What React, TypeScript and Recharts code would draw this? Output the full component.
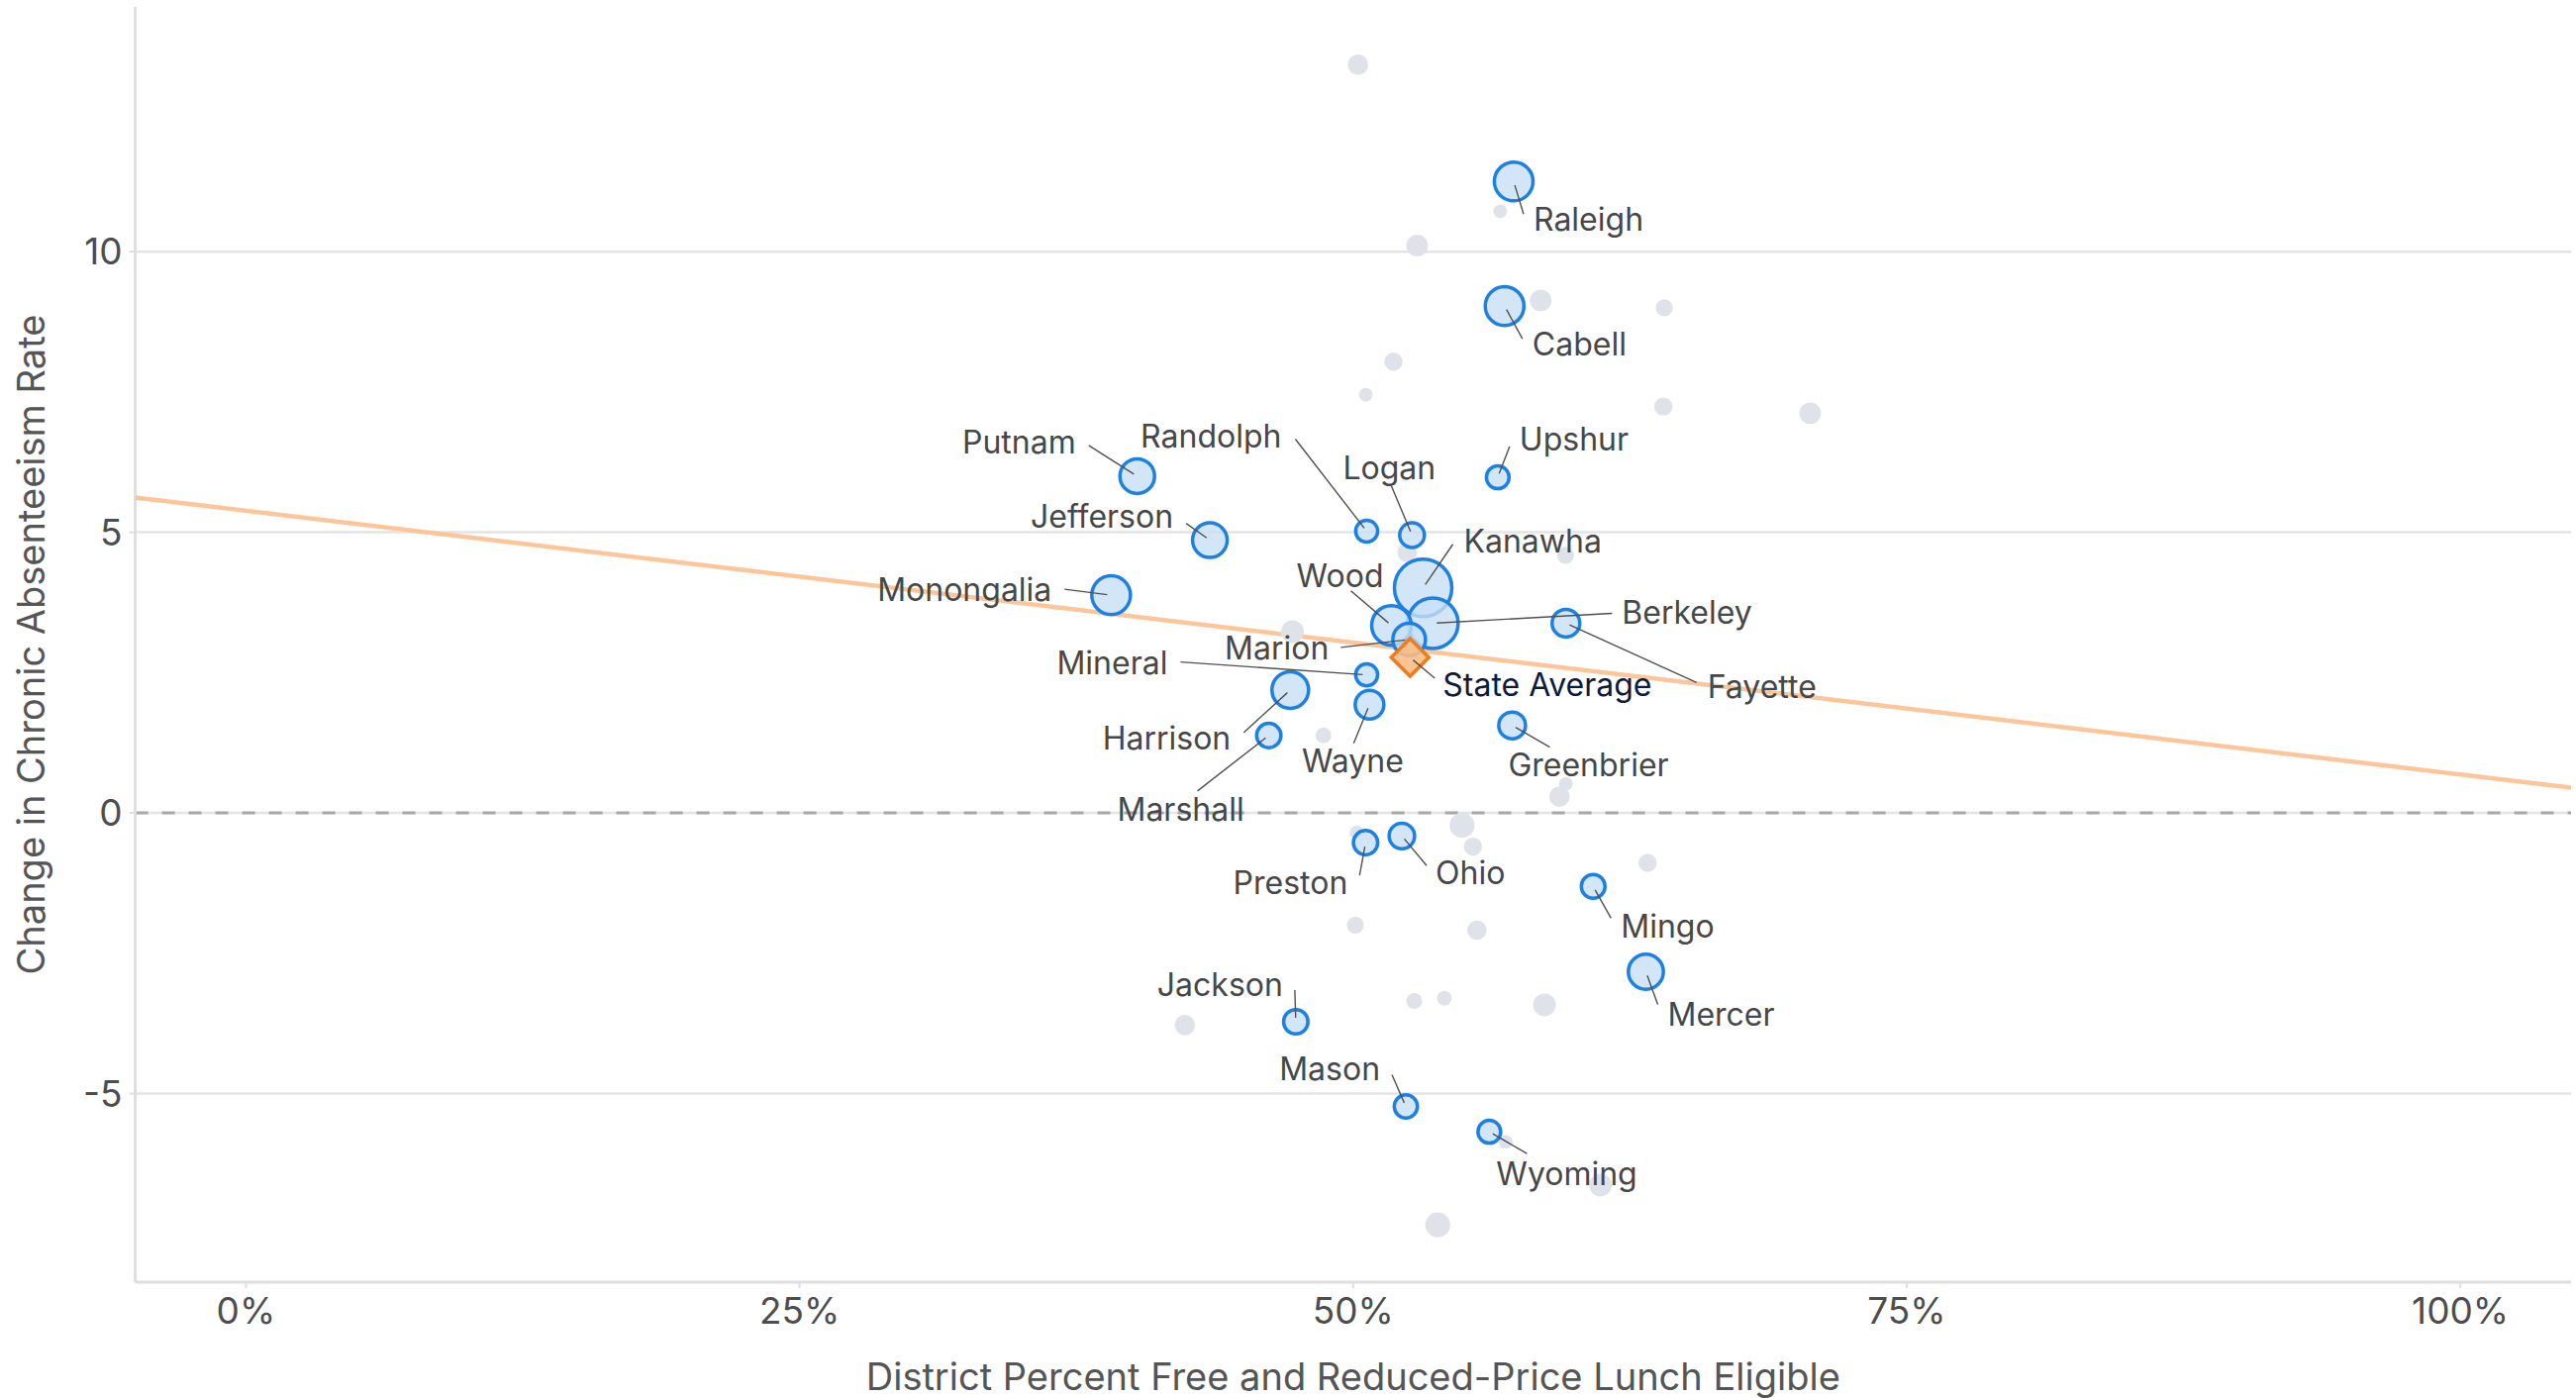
import React from 'react';
import {
  ScatterChart,
  Scatter,
  XAxis,
  YAxis,
  ZAxis,
  ReferenceLine,
} from 'recharts';

// ---------- data ----------
// Labeled districts (share FRL eligible, change in chronic absenteeism, enrollment)
const labeledNames = [
  'Raleigh', 'Cabell', 'Putnam', 'Upshur', 'Randolph', 'Logan', 'Jefferson',
  'Kanawha', 'Monongalia', 'Wood', 'Berkeley', 'Fayette', 'Marion', 'Mineral',
  'Harrison', 'Wayne', 'Greenbrier', 'Marshall', 'Preston', 'Ohio', 'Mingo',
  'Mercer', 'Jackson', 'Mason', 'Wyoming',
];
const labeledFrl = [
  0.5725, 0.5684, 0.4025, 0.5653, 0.5061, 0.5266, 0.4353,
  0.5316, 0.3907, 0.5173, 0.536, 0.5961, 0.5253, 0.5061,
  0.4716, 0.5074, 0.5718, 0.4619, 0.5056, 0.522, 0.6084,
  0.6322, 0.4741, 0.5238, 0.5615,
];
const labeledChange = [
  11.25, 9.03, 6.0, 5.98, 5.02, 4.95, 4.86,
  4.01, 3.88, 3.34, 3.38, 3.38, 3.09, 2.46,
  2.19, 1.93, 1.56, 1.38, -0.53, -0.41, -1.31,
  -2.83, -3.72, -5.23, -5.68,
];
const labeledEnrollment = [
  10900, 10900, 8740, 3770, 3520, 4460, 8740,
  24000, 10900, 11400, 18600, 5590, 7770, 3520,
  9770, 6000, 5200, 4320, 4320, 4750, 4110,
  8940, 4320, 3900, 3770,
];

// Other (unlabeled) districts
const otherFrl = [
  0.5022, 0.5664, 0.5289, 0.5847, 0.6405, 0.5182, 0.5057, 0.6401, 0.7064,
  0.5244, 0.5959, 0.4726, 0.4866, 0.5961, 0.5932, 0.5492, 0.5015, 0.5541,
  0.633, 0.501, 0.5559, 0.5276, 0.5412, 0.5864, 0.424, 0.5689, 0.6117, 0.5382,
];
const otherChange = [
  13.33, 10.72, 10.11, 9.13, 9.0, 8.04, 7.45, 7.24, 7.12,
  4.64, 4.59, 3.23, 1.38, 0.52, 0.29, -0.22, -0.35, -0.6,
  -0.89, -2.0, -2.09, -3.35, -3.3, -3.42, -3.78, -5.86, -6.63, -7.34,
];
const otherEnrollment = [
  3030, 1360, 3390, 3390, 2110, 2420, 1360, 2420, 3390,
  2740, 2110, 3770, 1830, 1360, 3030, 4530, 1360, 2420,
  2420, 2110, 2740, 1830, 1600, 3770, 3030, 1360, 3770, 4530,
];

// State average
const stateAverageFrl = [0.5257];
const stateAverageChange = [2.77];

// Trend line end points (at the x-domain edges)
const trendFrl = [-0.05, 1.05];
const trendChange = [5.62, 0.45];

// Axes
const xTicks = [0, 0.25, 0.5, 0.75, 1];
const yTicks = [-5, 0, 5, 10];
const xDomain: [number, number] = [-0.05, 1.05];
const yDomain: [number, number] = [-8.36, 14.36];

// ---------- layout of the callout labels (pixel offsets from the mark) ----------
// [text dx, text baseline dy, anchor, leader end dx, leader end dy]
type Anchor = 'start' | 'end' | 'middle';
const LABEL_LAYOUT: Record<string, [number, number, Anchor, number, number]> = {
  Raleigh: [20, 50, 'start', 10, 33],
  Cabell: [28, 50, 'start', 18, 33],
  Putnam: [-62, -23, 'end', -49, -31],
  Randolph: [-86, -84, 'end', -72, -93],
  Logan: [-23, -56, 'middle', -21, -50],
  Upshur: [22, -27, 'start', 12, -31],
  Jefferson: [-37, -13, 'end', -24, -17],
  Kanawha: [41, -36, 'start', 30, -44],
  Monongalia: [-60, 6, 'end', -47, -6],
  Wood: [-8, -39, 'end', -41, -35],
  Berkeley: [191, 1, 'start', 181, -10],
  Fayette: [143, 76, 'start', 132, 60],
  Marion: [-81, 20, 'end', -69, 8],
  'State Average': [33, 39, 'start', 25, 21],
  Mineral: [-201, -1, 'end', -188, -13],
  Harrison: [-60, 60, 'end', -47, 43],
  Marshall: [-89, 86, 'middle', -72, 56],
  Wayne: [-17, 68, 'middle', -16, 39],
  Greenbrier: [-4, 51, 'start', 38, 22],
  Preston: [-18, 52, 'end', -6, 33],
  Ohio: [34, 49, 'start', 25, 30],
  Mingo: [28, 52, 'start', 18, 32],
  Mercer: [22, 54, 'start', 12, 33],
  Jackson: [-13, -26, 'end', -1, -32],
  Mason: [-26, -27, 'end', -14, -32],
  Wyoming: [7, 54, 'start', 38, 22],
};

const FONT = 'Inter, "Noto Sans", sans-serif';

// ---------- build series ----------
const labeledData = labeledNames
  .map((name, i) => ({ name, x: labeledFrl[i], y: labeledChange[i], z: labeledEnrollment[i] }))
  .sort((a, b) => b.z - a.z);
const otherData = otherFrl.map((x, i) => ({ x, y: otherChange[i], z: otherEnrollment[i] }));
const stateData = stateAverageFrl.map((x, i) => ({ name: 'State Average', x, y: stateAverageChange[i] }));
const trendData = trendFrl.map((x, i) => ({ x, y: trendChange[i] }));
const labelData = [...labeledData, ...stateData];

// ---------- shapes ----------
const Empty = () => <g />;

const Diamond = (props: any) => {
  const { cx, cy } = props;
  const h = 19;
  const pts = `${cx},${cy - h} ${cx + h},${cy} ${cx},${cy + h} ${cx - h},${cy}`;
  return (
    <polygon points={pts} fill="#fdbd86" fillOpacity={0.9} stroke="#f07a1c" strokeWidth={3.5} strokeLinejoin="miter" />
  );
};

const LeaderLabel = (props: any) => {
  const { cx, cy, payload } = props;
  const lay = payload && LABEL_LAYOUT[payload.name];
  if (!lay || cx == null || cy == null) return <g />;
  const [dx, dy, anchor, ex, ey] = lay;
  const len = Math.hypot(ex, ey) || 1;
  const sx = cx + (ex / len) * 4;
  const sy = cy + (ey / len) * 4;
  const isState = payload.name === 'State Average';
  return (
    <g>
      <line x1={sx} y1={sy} x2={cx + ex} y2={cy + ey} stroke="#505050" strokeWidth={1.4} />
      <text
        x={cx + dx}
        y={cy + dy}
        textAnchor={anchor}
        fontFamily={FONT}
        fontSize={32}
        fill={isState ? '#0c1a3f' : '#474747'}
      >
        {payload.name}
      </text>
    </g>
  );
};

const XTitle = (props: any) => {
  const vb = props.viewBox || {};
  const x = (vb.x ?? 136) + (vb.width ?? 2460) / 2;
  const y = (vb.y ?? 1295) + (vb.height ?? 117) - 8;
  return (
    <text x={x} y={y} textAnchor="middle" fontFamily={FONT} fontSize={38} fill="#555555">
      District Percent Free and Reduced-Price Lunch Eligible
    </text>
  );
};

const YTitle = (props: any) => {
  const vb = props.viewBox || {};
  const x = (vb.x ?? 36.6) - 6;
  const y = (vb.y ?? 7) + (vb.height ?? 1288) / 2;
  return (
    <text
      x={x}
      y={y}
      transform={`rotate(-90, ${x}, ${y})`}
      textAnchor="middle"
      dominantBaseline="central"
      fontFamily={FONT}
      fontSize={38}
      fill="#555555"
    >
      Change in Chronic Absenteeism Rate
    </text>
  );
};

const tickStyle = { fill: '#4d4d4d', fontSize: 37, fontFamily: FONT };
const GRID = '#e4e4e4';

export default function App() {
  return (
    <div style={{ width: 2602, height: 1412, background: '#ffffff' }}>
      <style>{'body{margin:0;overflow:hidden;background:#fff}'}</style>
      <ScatterChart width={2602} height={1412} margin={{ top: 7, right: 5, bottom: 0, left: 36.6 }}>
        <XAxis
          type="number"
          dataKey="x"
          domain={xDomain}
          ticks={xTicks}
          allowDataOverflow
          tickFormatter={(v: number) => `${Math.round(v * 100)}%`}
          height={117}
          axisLine={{ stroke: '#dedede', strokeWidth: 3 }}
          tickLine={{ stroke: '#dedede', strokeWidth: 2 }}
          tickSize={6}
          tickMargin={10}
          tick={tickStyle}
          label={<XTitle />}
        />
        <YAxis
          type="number"
          dataKey="y"
          domain={yDomain}
          ticks={yTicks}
          allowDataOverflow
          width={100}
          axisLine={{ stroke: '#dedede', strokeWidth: 3 }}
          tickLine={{ stroke: '#dedede', strokeWidth: 2 }}
          tickSize={6}
          tickMargin={7}
          tick={tickStyle}
          label={<YTitle />}
        />
        <ZAxis type="number" dataKey="z" domain={[0, 24000]} range={[0, 2642]} />
        {yTicks.map((t) => (
          <ReferenceLine key={`g${t}`} y={t} stroke={GRID} strokeWidth={2.5} />
        ))}
        <ReferenceLine y={0} stroke="#a8a8a8" strokeWidth={3} strokeDasharray="13 14" />
        <Scatter
          data={trendData}
          line={{ stroke: '#fdc59a', strokeWidth: 4.5 }}
          shape={Empty}
          isAnimationActive={false}
        />
        <Scatter data={otherData} fill="#dfe3e9" shape="circle" isAnimationActive={false} />
        <Scatter
          data={labeledData}
          fill="#c8e0f6"
          fillOpacity={0.8}
          stroke="#1d80e2"
          strokeWidth={3.5}
          shape="circle"
          isAnimationActive={false}
        />
        <Scatter data={stateData} shape={Diamond} isAnimationActive={false} />
        <Scatter data={labelData} shape={LeaderLabel} isAnimationActive={false} />
      </ScatterChart>
    </div>
  );
}
